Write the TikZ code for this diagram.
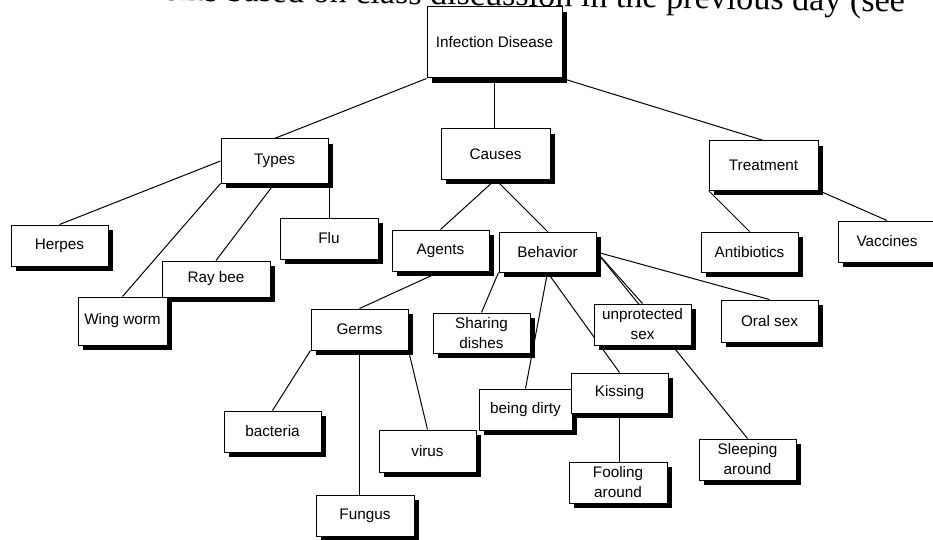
\documentclass[tikz,border=0pt]{standalone}
\usepackage{fontspec}
\setmainfont{Liberation Sans}
\newfontfamily\pageserif{Liberation Serif}
\usepackage{tikz}
\usetikzlibrary{shadows,backgrounds}

\begin{document}
\begin{tikzpicture}[
    x=0.85pt, y=-0.85pt,
    concept/.style 2 args={
      draw=black, line width=0.85pt, fill=white,
      minimum width={#1*0.85pt}, minimum height={#2*0.85pt},
      inner sep=0pt, align=center,
      font=\fontsize{13}{17}\selectfont,
      general shadow={fill=black, shadow xshift=4.25pt, shadow yshift=-4.25pt},
    },
    link/.style={draw=black, line width=0.85pt},
  ]

  \useasboundingbox (0,0) rectangle (933,539);

  % =================== PAGE TEXT (cut at top, slightly tilted scan) ===================
  \node[anchor=base east, inner sep=0pt, rotate=-0.9,
        font=\pageserif\fontsize{29}{29}\selectfont] (pagetext) at (905,12)
    {s and treatments based on class discussion in the previous day (see};

  % =================== ROOT ===================
  \node[concept={135}{71}] (infect) at (494.5,42.5) {Infection Disease};

  % =================== FIRST LEVEL ===================
  \node[concept={107}{44}] (types)  at (274.5,161)   {Types};
  \node[concept={109}{50}] (causes) at (495.5,154)   {Causes};
  \node[concept={109}{49}] (treat)  at (763.5,165.5) {Treatment};

  % Types branch
  \node[concept={97}{41}]  (herpes) at (59.5,245.5) {Herpes};
  \node[concept={98}{41}]  (flu)    at (329,238.5)  {Flu};
  \node[concept={108}{36}] (raybee) at (216,279)    {Ray bee};
  \node[concept={89}{48}]  (wing)   at (122.5,321)  {Wing worm};

  % Causes branch
  \node[concept={97}{41}] (agents)   at (440.5,250.5) {Agents};
  \node[concept={97}{40}] (behav)    at (547.5,252)   {Behavior};
  \node[concept={97}{41}] (germs)    at (359.5,329.5) {Germs};
  \node[concept={97}{41}] (bacteria) at (272.5,431.5) {bacteria};
  \node[concept={97}{42}] (virus)    at (427.5,451)   {virus};
  \node[concept={98}{41}] (fungus)   at (365,515.5)   {Fungus};
  \node[concept={97}{40}] (sharing)  at (481.5,333)   {Sharing\\dishes};
  \node[concept={97}{41}] (unprot)   at (642.5,324.5) {unprotected\\sex};
  \node[concept={97}{42}] (oral)     at (769.5,321)   {Oral sex};
  \node[concept={93}{41}] (dirty)    at (525.5,409.5) {being dirty};
  \node[concept={97}{40}] (kissing)  at (619.5,393)   {Kissing};
  \node[concept={98}{41}] (fooling)  at (618,482.5)   {Fooling\\around};
  \node[concept={97}{41}] (sleeping) at (747.5,459.5) {Sleeping\\around};

  % Treatment branch
  \node[concept={97}{40}] (antib) at (749.5,252)   {Antibiotics};
  \node[concept={98}{41}] (vacc)  at (887,241.5)   {Vaccines};

  % =================== LINKS (behind the boxes) ===================
  \begin{scope}[on background layer]
    \fill[white] (0,0) rectangle (933,539);

    \draw[link] (infect.south west) -- (types.north);
    \draw[link] (infect.south) -- (infect.south |- causes.north);
    \draw[link] (infect.south east) -- (treat.north);

    \draw[link] (types.west) -- (herpes.north);
    \draw[link] (types.south west) -- (wing.north);
    \draw[link] (types.south) -- (raybee.north);
    \draw[link] (flu.north) -- (flu.north |- types.south);

    \draw[link] (causes.south) -- (agents.north);
    \draw[link] (causes.south) -- (behav.north);
    \draw[link] (agents.south) -- (germs.north);

    \draw[link] (germs.south west) -- (bacteria.north);
    \draw[link] (germs.south) -- (germs.south |- fungus.north);
    \draw[link] (germs.south east) -- (virus.north);

    \draw[link] (behav.south west) -- (sharing.north);
    \draw[link] (behav.south) -- (dirty.north);
    \draw[link] (behav.south) -- (kissing.north);
    \draw[link] (behav.east) -- (unprot.north);
    \draw[link] (behav.east) -- (oral.north);
    \draw[link] (behav.east) -- (sleeping.north);
    \draw[link] (kissing.south) -- (kissing.south |- fooling.north);

    \draw[link] (treat.south west) -- (antib.north);
    \draw[link] (treat.south east) -- (vacc.north);
  \end{scope}

\end{tikzpicture}
\end{document}
